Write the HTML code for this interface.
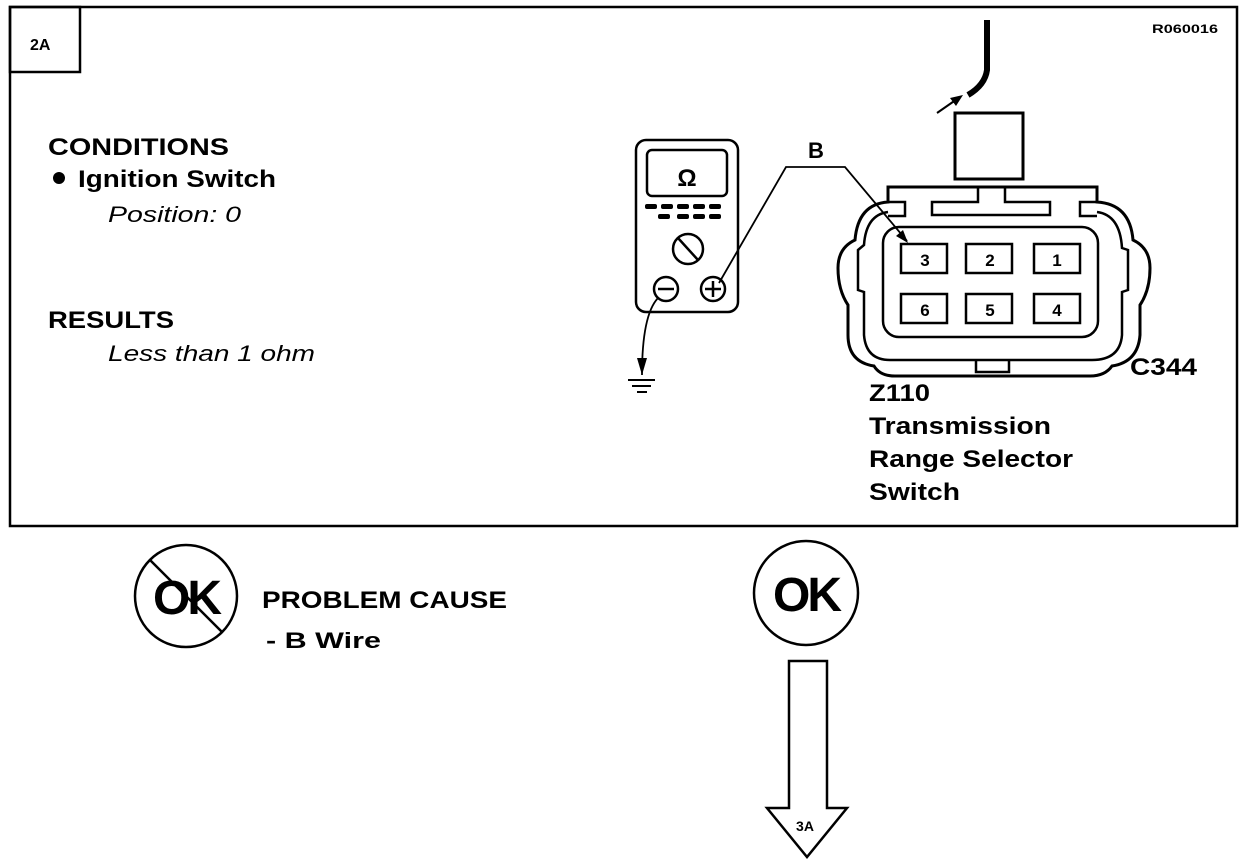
<!DOCTYPE html>
<html><head><style>
html,body{margin:0;padding:0;background:#fff;}
svg{display:block;}
text{font-family:"Liberation Sans",Arial,sans-serif;fill:#000;}
</style></head><body>
<svg width="1248" height="866" viewBox="0 0 1248 866" xmlns="http://www.w3.org/2000/svg">
<rect x="10" y="7" width="1227" height="519" fill="none" stroke="#000" stroke-width="2.5"/>
<rect x="10" y="7" width="70" height="65" fill="none" stroke="#000" stroke-width="2.5"/>
<text x="30" y="50" font-size="16" font-weight="bold">2A</text>
<text x="1152" y="33" font-size="12" font-weight="bold" textLength="66" lengthAdjust="spacingAndGlyphs">R060016</text>

<text x="48" y="155" font-size="24" font-weight="bold" textLength="181" lengthAdjust="spacingAndGlyphs">CONDITIONS</text>
<circle cx="59" cy="178" r="6" fill="#000"/>
<text x="78" y="187" font-size="24" font-weight="bold" textLength="198" lengthAdjust="spacingAndGlyphs">Ignition Switch</text>
<text x="108" y="222" font-size="22" font-style="italic" textLength="133" lengthAdjust="spacingAndGlyphs">Position: 0</text>
<text x="48" y="328" font-size="24" font-weight="bold" textLength="126" lengthAdjust="spacingAndGlyphs">RESULTS</text>
<text x="108" y="361" font-size="22" font-style="italic" textLength="207" lengthAdjust="spacingAndGlyphs">Less than 1 ohm</text>

<!-- meter -->
<rect x="636" y="140" width="102" height="172" rx="10" fill="none" stroke="#000" stroke-width="2.5"/>
<rect x="647" y="150" width="80" height="46" rx="5" fill="none" stroke="#000" stroke-width="2.5"/>
<text x="687" y="186" font-size="24" font-weight="bold" text-anchor="middle">Ω</text>
<g fill="#000">
<rect x="645" y="204" width="12" height="5" rx="2"/><rect x="661" y="204" width="12" height="5" rx="2"/><rect x="677" y="204" width="12" height="5" rx="2"/><rect x="693" y="204" width="12" height="5" rx="2"/><rect x="709" y="204" width="12" height="5" rx="2"/>
<rect x="658" y="214" width="12" height="5" rx="2"/><rect x="677" y="214" width="12" height="5" rx="2"/><rect x="693" y="214" width="12" height="5" rx="2"/><rect x="709" y="214" width="12" height="5" rx="2"/>
</g>
<circle cx="688" cy="249" r="15" fill="none" stroke="#000" stroke-width="2.5"/>
<line x1="678" y1="238" x2="698" y2="260" stroke="#000" stroke-width="2.5"/>
<circle cx="666" cy="289" r="12" fill="none" stroke="#000" stroke-width="2.5"/>
<line x1="658" y1="289" x2="674" y2="289" stroke="#000" stroke-width="2.5"/>
<circle cx="713" cy="289" r="12" fill="none" stroke="#000" stroke-width="2.5"/>
<line x1="705" y1="289" x2="721" y2="289" stroke="#000" stroke-width="2.5"/>
<line x1="713" y1="281" x2="713" y2="297" stroke="#000" stroke-width="2.5"/>
<!-- ground lead -->
<path d="M658 298 Q642 315 642 375" fill="none" stroke="#000" stroke-width="1.8"/>
<polygon points="637,358 647,358 642,375" fill="#000"/>
<line x1="628" y1="380" x2="655" y2="380" stroke="#000" stroke-width="2"/>
<line x1="632" y1="386" x2="651" y2="386" stroke="#000" stroke-width="2"/>
<line x1="637" y1="392" x2="647" y2="392" stroke="#000" stroke-width="2"/>
<!-- B wire -->
<path d="M719 283 L786 167 L845 167 L907 241" fill="none" stroke="#000" stroke-width="1.8"/>
<polygon points="908,243 896,236 903,230" fill="#000"/>
<text x="808" y="158" font-size="22" font-weight="bold">B</text>

<!-- top wire -->
<path d="M987 20 L987 70 Q985 85 968 95" fill="none" stroke="#000" stroke-width="6"/>
<line x1="937" y1="113" x2="960" y2="97" stroke="#000" stroke-width="2"/>
<polygon points="963,95 950,98 956,106" fill="#000"/>
<rect x="955" y="113" width="68" height="66" fill="none" stroke="#000" stroke-width="3"/>

<!-- connector -->
<path d="M888 202 L888 187 L1097 187 L1097 202 Q1130 204 1133 240 Q1150 248 1150 268 Q1150 290 1140 305 L1140 335 Q1138 362 1112 366 Q1105 376 1090 376 L895 376 Q880 376 874 366 Q848 362 848 335 L848 305 Q838 290 838 268 Q838 248 855 240 Q858 204 888 202 Z" fill="none" stroke="#000" stroke-width="3"/>
<path d="M888 212 Q866 215 864 245 L858 250 L858 290 L864 292 L864 335 Q866 360 890 360 L1092 360 Q1120 360 1122 335 L1122 292 L1128 290 L1128 250 L1122 248 Q1120 215 1097 212" fill="none" stroke="#000" stroke-width="2.5"/>
<path d="M888 202 L905 202 L905 216 L888 216" fill="none" stroke="#000" stroke-width="2.5"/>
<path d="M1097 202 L1080 202 L1080 216 L1097 216" fill="none" stroke="#000" stroke-width="2.5"/>
<path d="M978 187 L978 202 L932 202 L932 215 L1050 215 L1050 202 L1005 202 L1005 187" fill="none" stroke="#000" stroke-width="2.5"/>
<path d="M976 360 L976 372 L1009 372 L1009 360" fill="none" stroke="#000" stroke-width="2.5"/>
<rect x="883" y="227" width="215" height="110" rx="16" fill="none" stroke="#000" stroke-width="2.5"/>
<g fill="none" stroke="#000" stroke-width="2.5">
<rect x="901" y="244" width="46" height="29"/><rect x="966" y="244" width="46" height="29"/><rect x="1034" y="244" width="46" height="29"/>
<rect x="901" y="294" width="46" height="29"/><rect x="966" y="294" width="46" height="29"/><rect x="1034" y="294" width="46" height="29"/>
</g>
<g font-size="17" font-weight="bold" text-anchor="middle">
<text x="925" y="266">3</text><text x="990" y="266">2</text><text x="1057" y="266">1</text>
<text x="925" y="316">6</text><text x="990" y="316">5</text><text x="1057" y="316">4</text>
</g>
<text x="1130" y="375" font-size="24" font-weight="bold" textLength="67" lengthAdjust="spacingAndGlyphs">C344</text>
<text x="869" y="401" font-size="24" font-weight="bold" textLength="61" lengthAdjust="spacingAndGlyphs">Z110</text>
<text x="869" y="434" font-size="24" font-weight="bold" textLength="182" lengthAdjust="spacingAndGlyphs">Transmission</text>
<text x="869" y="467" font-size="24" font-weight="bold" textLength="204" lengthAdjust="spacingAndGlyphs">Range Selector</text>
<text x="869" y="500" font-size="24" font-weight="bold" textLength="91" lengthAdjust="spacingAndGlyphs">Switch</text>

<!-- bottom -->
<circle cx="186" cy="596" r="51" fill="none" stroke="#000" stroke-width="2.5"/>
<text x="186" y="614" font-size="48" font-weight="bold" text-anchor="middle" letter-spacing="-3">OK</text>
<line x1="150" y1="560" x2="222" y2="632" stroke="#000" stroke-width="2.5"/>
<text x="262" y="608" font-size="24" font-weight="bold" textLength="245" lengthAdjust="spacingAndGlyphs">PROBLEM CAUSE</text>
<text x="266" y="648" font-size="22" font-weight="bold" textLength="115" lengthAdjust="spacingAndGlyphs">-  B Wire</text>

<circle cx="806" cy="593" r="52" fill="none" stroke="#000" stroke-width="2.5"/>
<text x="806" y="611" font-size="48" font-weight="bold" text-anchor="middle" letter-spacing="-3">OK</text>
<path d="M789 661 L827 661 L827 808 L847 808 L807 857 L767 808 L789 808 Z" fill="none" stroke="#000" stroke-width="2.5"/>
<text x="805" y="831" font-size="14" font-weight="bold" text-anchor="middle">3A</text>
</svg>
</body></html>
